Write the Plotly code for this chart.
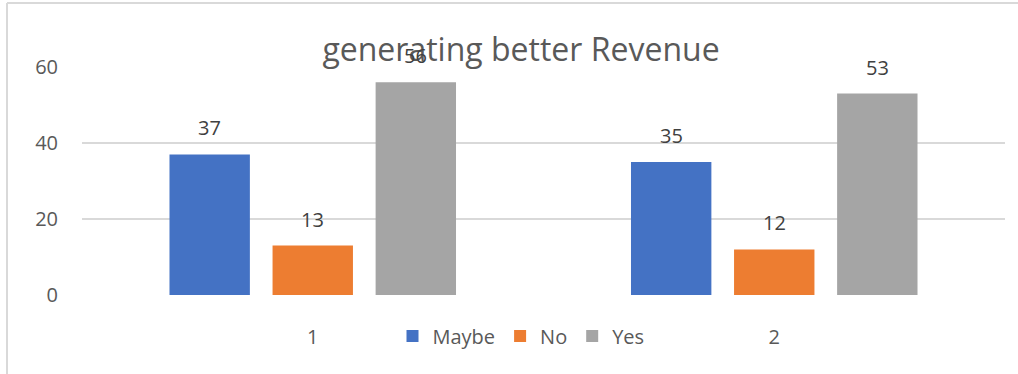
import plotly.graph_objects as go

categories = ["1", "2"]
maybe_vals = [37, 35]
no_vals = [13, 12]
yes_vals = [56, 53]
y_ticks = [0, 20, 40, 60]

W, H = 1018, 374
L, R, T, B = 82, 13, 67, 79
pw, ph = W - L - R, H - T - B
BARGAP, GROUPGAP = 0.33, 0.22

def px_x(px):
    return (px - L) / pw

def px_y(py):
    return (H - B - py) / ph

font_family = "Open Sans"
txt = "#595959"

series = [("Maybe", maybe_vals, "#4472C4"),
          ("No", no_vals, "#ED7D31"),
          ("Yes", yes_vals, "#A5A5A5")]

fig = go.Figure()
annotations = []
slot = (1 - BARGAP) / len(series)
for si, (name, vals, col) in enumerate(series):
    fig.add_trace(go.Bar(
        name=name, x=categories, y=vals, marker_color=col,
        marker_line_width=0,
    ))
    off = (si - (len(series) - 1) / 2) * slot
    for ci, v in enumerate(vals):
        annotations.append(dict(
            x=ci + off, y=v, xref="x", yref="y", text=str(v),
            showarrow=False, xanchor="center", yanchor="bottom", yshift=11,
            font=dict(size=20, color="#404040", family=font_family),
        ))

fig.update_layout(
    width=W, height=H,
    margin=dict(l=L, r=R, t=T, b=B),
    paper_bgcolor="white", plot_bgcolor="white",
    barmode="group", bargap=BARGAP, bargroupgap=GROUPGAP,
    font=dict(family=font_family, color=txt, size=20),
    title=dict(text="generating better Revenue", x=px_x(521), xref="paper",
               xanchor="center", y=1 - 50 / H, yanchor="middle",
               font=dict(size=32, color=txt, family=font_family)),
    xaxis=dict(type="category", showgrid=False, showline=False, ticks="",
               tickfont=dict(size=20, color=txt), ticklabelstandoff=28),
    yaxis=dict(range=[0, 60], tickvals=y_ticks, showgrid=True,
               gridcolor="#D9D9D9", gridwidth=1.5, zeroline=False,
               showline=False, ticks="", tickfont=dict(size=20, color=txt),
               ticklabelstandoff=23),
    legend=dict(orientation="h", x=px_x(521), xanchor="center",
                y=px_y(336), yanchor="middle", font=dict(size=20, color=txt),
                itemwidth=30, bgcolor="rgba(0,0,0,0)"),
    showlegend=True,
    annotations=annotations,
    shapes=[
        dict(type="line", xref="paper", yref="paper", x0=px_x(7), x1=px_x(W),
             y0=px_y(3), y1=px_y(3), line=dict(color="#D9D9D9", width=2)),
        dict(type="line", xref="paper", yref="paper", x0=px_x(7), x1=px_x(7),
             y0=px_y(3), y1=px_y(H), line=dict(color="#D9D9D9", width=2)),
    ],
)

fig.write_html("out.html")
